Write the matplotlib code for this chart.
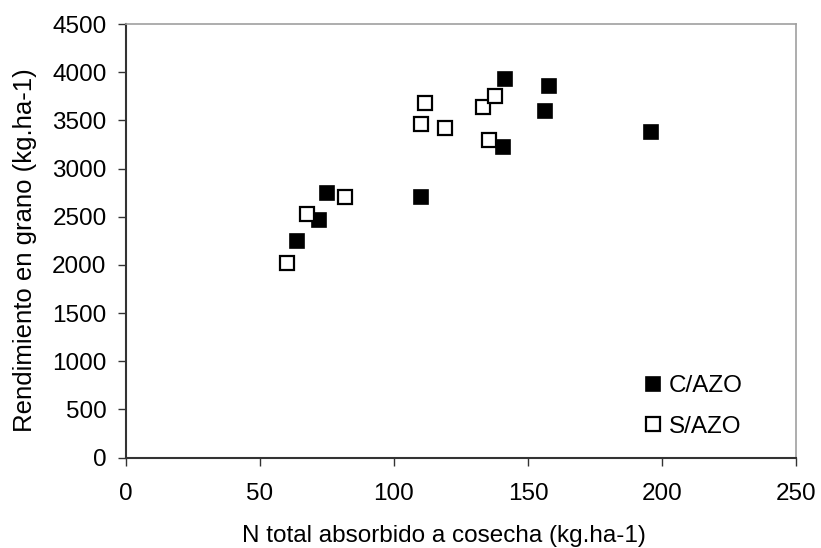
import matplotlib
matplotlib.use("Agg")
import matplotlib.pyplot as plt

plt.rcParams["font.family"] = ["Liberation Sans", "DejaVu Sans"]
plt.rcParams["font.size"] = 17.5

# N absorbed (kg/ha) vs grain yield (kg/ha)
n_con_azo = [63.8, 72.0, 75.0, 110.1, 140.8, 141.5, 156.5, 158.0, 196.0]
rend_con_azo = [2250, 2465, 2745, 2705, 3220, 3935, 3600, 3860, 3380]

n_sin_azo = [60.0, 67.5, 81.7, 110.1, 111.6, 119.0, 133.3, 135.4, 137.8]
rend_sin_azo = [2015, 2525, 2705, 3460, 3680, 3420, 3640, 3300, 3755]

fig = plt.figure(figsize=(8.21, 5.48), dpi=100)
ax = fig.add_axes([0.1535, 0.165, 0.816, 0.791])

ax.plot(n_con_azo, rend_con_azo, "s", ms=10.5, mfc="black", mec="black",
        mew=1.2, label="C/AZO", clip_on=False)
ax.plot(n_sin_azo, rend_sin_azo, "s", ms=10.5, mfc="white", mec="black",
        mew=1.6, label="S/AZO", clip_on=False)

ax.set_xlim(0, 250)
ax.set_ylim(0, 4500)
ax.set_xticks(range(0, 251, 50))
ax.set_yticks(range(0, 4501, 500))

for side in ("top", "right"):
    ax.spines[side].set_color("#a0a0a0")
    ax.spines[side].set_linewidth(1.2)
for side in ("left", "bottom"):
    ax.spines[side].set_color("#333333")
    ax.spines[side].set_linewidth(1.5)
ax.tick_params(direction="out", length=5.5, width=1, color="#333333")
ax.tick_params(axis="x", pad=13)
ax.tick_params(axis="y", pad=8.5)

ax.set_xlabel("N total absorbido a cosecha (kg.ha-1)")
ax.set_ylabel("Rendimiento en grano (kg.ha-1)", fontsize=18.5)
ax.yaxis.set_label_coords(-0.133, 0.478)
ax.xaxis.set_label_coords(0.475, -0.155)

ax.legend(loc="lower left", bbox_to_anchor=(0.75, 0.007), frameon=False,
          handlelength=0.6, handletextpad=0.35, labelspacing=0.75,
          borderpad=0.2, fontsize=17.5)

fig.savefig("out.png", dpi=100)
